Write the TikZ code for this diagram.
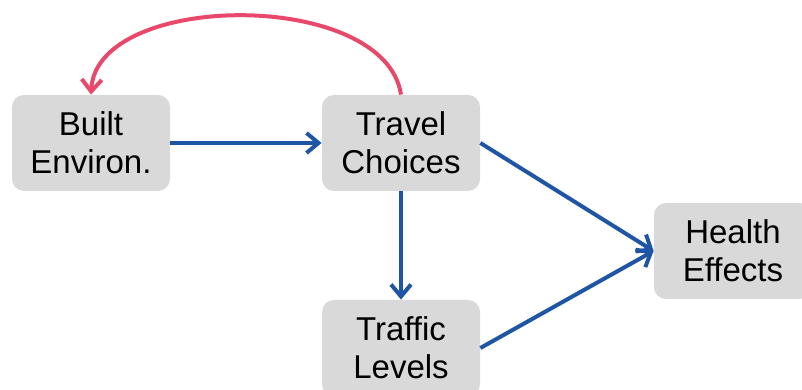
\documentclass[tikz,border=0pt]{standalone}
\usepackage{fontspec}
\setmainfont{Liberation Sans}
\usetikzlibrary{arrows.meta}

\definecolor{boxgray}{HTML}{D9D9D9}
\definecolor{linkblue}{HTML}{1F55A5}
\definecolor{backred}{HTML}{E8496B}

\begin{document}
\begin{tikzpicture}[x=0.5pt,y=0.5pt,
    factor/.style={fill=boxgray,rounded corners=6pt,minimum width=79pt,
      minimum height=48pt,inner sep=0pt,align=center,
      font=\fontsize{16.5}{19}\selectfont},
    link/.style={draw=linkblue,line width=2pt,
      -{Straight Barb[length=6pt,width=10pt,line width=2pt]}},
    feedback/.style={draw=backred,line width=2pt,
      -{Straight Barb[length=6pt,width=10pt,line width=2pt]}}]
    \useasboundingbox (0,0) rectangle (802,390);
    \node[factor] (built) at (91,247) {Built\\Environ.};
    \node[factor] (travel) at (401,247) {Travel\\Choices};
    \node[factor] (traffic) at (401,42) {Traffic\\Levels};
    \node[factor] (health) at (733,139) {Health\\Effects};
    % causal links
    \draw[link] (built.east) -- (travel.west);
    \draw[link] (travel.south) -- (traffic.north);
    \draw[link] (travel.east) -- (health.west);
    \draw[link] (traffic.east) -- (health.west);
    % feedback loop
    \draw[feedback] (travel.north) .. controls +(-16,106) and +(5,104) .. (built.north);
\end{tikzpicture}
\end{document}
